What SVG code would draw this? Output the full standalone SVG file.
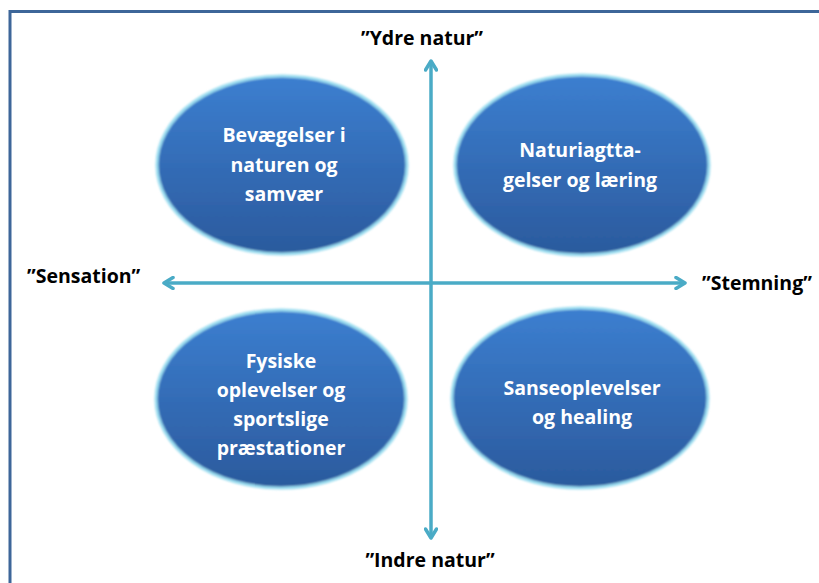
<svg xmlns="http://www.w3.org/2000/svg" width="819" height="583" viewBox="0 0 819 583">
<defs>
<style>
.lbl{font-family:"Open Sans","Noto Sans",sans-serif;font-weight:700;font-size:19.5px;fill:#000;}
.nt{font-family:"Open Sans","Noto Sans",sans-serif;font-weight:700;font-size:19.5px;fill:#fff;text-anchor:middle;}
.ax{stroke:#4aabc6;stroke-width:3.5;fill:none;}
.node ellipse{fill:url(#g);stroke:#9adcef;stroke-width:3;filter:url(#glow);}
</style>
<linearGradient id="g" x1="0" y1="0" x2="0" y2="1">
<stop offset="0" stop-color="#3c7fd0"/>
<stop offset="1" stop-color="#2b5a9d"/>
</linearGradient>
<filter id="glow" x="-10%" y="-10%" width="120%" height="120%">
<feGaussianBlur in="SourceGraphic" stdDeviation="0.8"/>
</filter>
<marker id="ah" viewBox="0 0 14 14" refX="11" refY="7" markerWidth="14" markerHeight="14" markerUnits="userSpaceOnUse" orient="auto-start-reverse">
<polyline points="2,1.5 11,7 2,12.5" fill="none" stroke="#4aabc6" stroke-width="3.5" stroke-linecap="round" stroke-linejoin="round"/>
</marker>
</defs>
<rect width="819" height="583" fill="#fff"/>
<path d="M10,600 V11.5 H830" fill="none" stroke="#3d6699" stroke-width="3"/>
<g id="connectors">
<line class="ax" x1="431" y1="538" x2="431" y2="61" marker-start="url(#ah)" marker-end="url(#ah)"/>
<line class="ax" x1="164" y1="283" x2="685" y2="283" marker-start="url(#ah)" marker-end="url(#ah)"/>
</g>
<g id="n1" class="node">
<ellipse cx="282" cy="165" rx="125" ry="89"/>
<text class="nt" x="284" y="142">Bevægelser i</text>
<text class="nt" x="284" y="172">naturen og</text>
<text class="nt" x="284" y="201">samvær</text>
</g>
<g id="n2" class="node">
<ellipse cx="582" cy="165" rx="127" ry="90"/>
<text class="nt" x="580" y="157">Naturiagtta-</text>
<text class="nt" x="580" y="187">gelser og læring</text>
</g>
<g id="n3" class="node">
<ellipse cx="281" cy="399" rx="125" ry="89"/>
<text class="nt" x="281" y="368">Fysiske</text>
<text class="nt" x="281" y="397">oplevelser og</text>
<text class="nt" x="281" y="426">sportslige</text>
<text class="nt" x="281" y="455">præstationer</text>
</g>
<g id="n4" class="node">
<ellipse cx="580" cy="398" rx="128" ry="90"/>
<text class="nt" x="582" y="395">Sanseoplevelser</text>
<text class="nt" x="582" y="424">og healing</text>
</g>
<g id="l-top"><text class="lbl" x="422" y="45" text-anchor="middle">”Ydre natur”</text></g>
<g id="l-left"><text class="lbl" x="27" y="283">”Sensation”</text></g>
<g id="l-right"><text class="lbl" x="702" y="290">”Stemning”</text></g>
<g id="l-bottom"><text class="lbl" x="430" y="567" text-anchor="middle">”Indre natur”</text></g>
</svg>
